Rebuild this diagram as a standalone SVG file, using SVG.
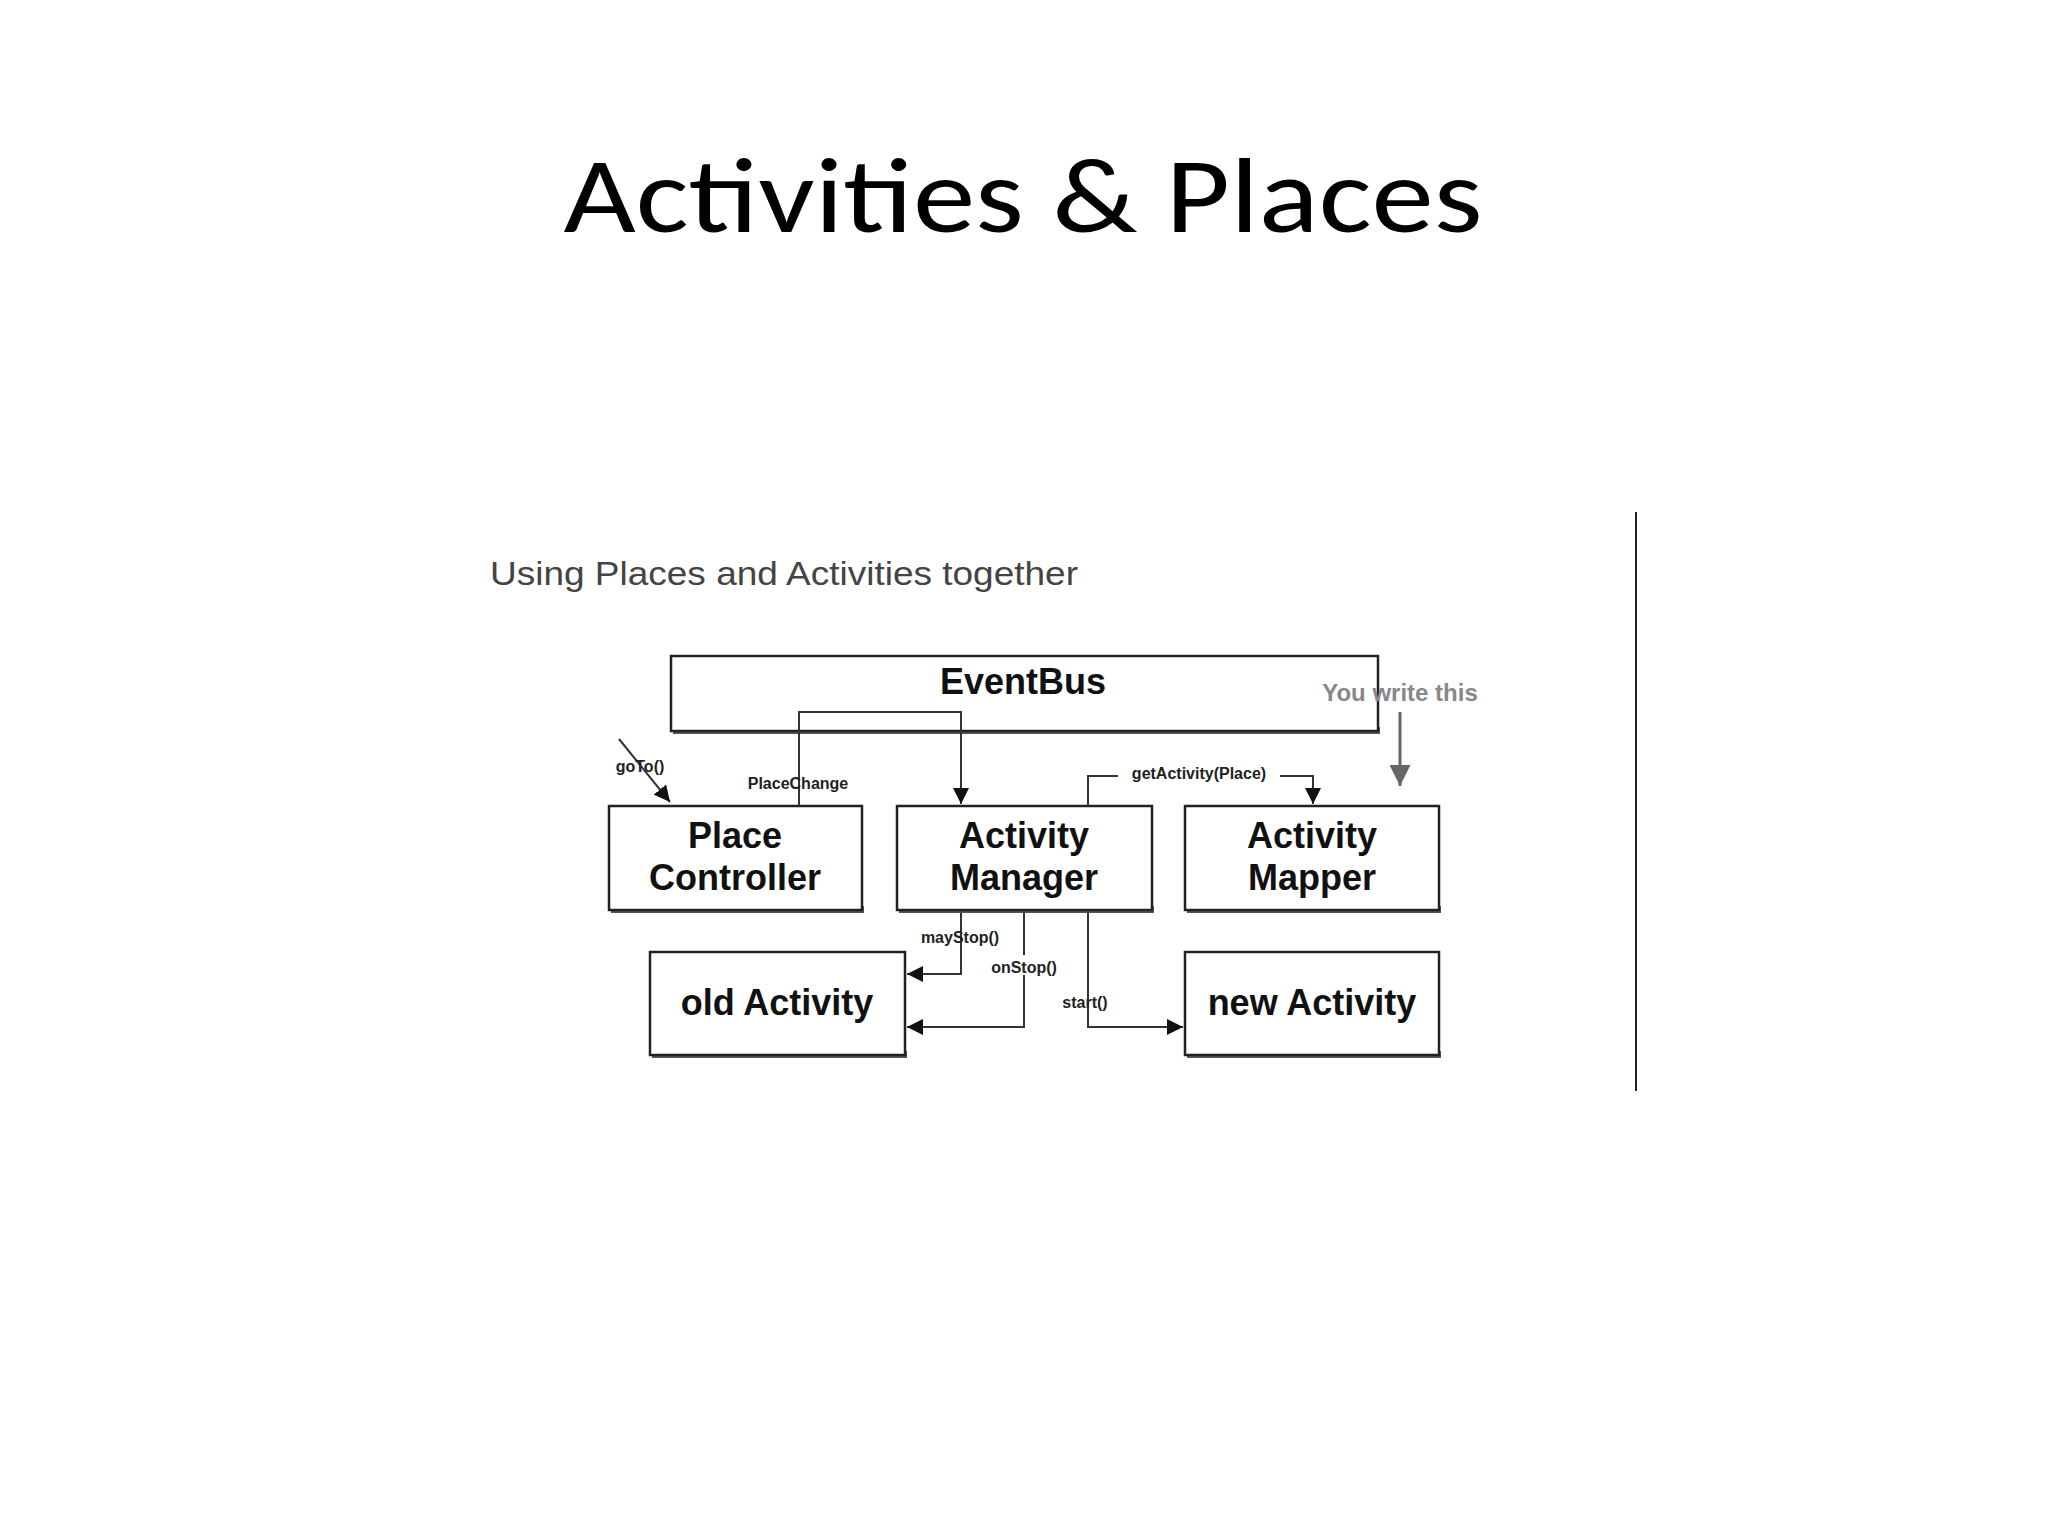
<svg xmlns="http://www.w3.org/2000/svg" width="2048" height="1536" viewBox="0 0 2048 1536">
<style>
.box{fill:#fff;stroke:#222;stroke-width:2.5}
.sh{fill:#555}
.bt{font-family:"Liberation Sans",Arial,sans-serif;font-weight:bold;font-size:36px;fill:#111;text-anchor:middle}
.lbl{font-family:"Liberation Sans",Arial,sans-serif;font-weight:bold;font-size:16px;fill:#222;text-anchor:middle}
.c{fill:none;stroke:#333;stroke-width:2}
</style>
<defs>
<marker id="ah" viewBox="0 0 10 10" refX="10" refY="5" markerWidth="8" markerHeight="8" orient="auto-start-reverse"><path d="M0,0 L10,5 L0,10 z" fill="#111"/></marker>
<marker id="ag" viewBox="0 0 10 10" refX="10" refY="5" markerWidth="7" markerHeight="7" orient="auto"><path d="M0,0 L10,5 L0,10 z" fill="#666"/></marker>
</defs>
<rect width="2048" height="1536" fill="#fff"/>
<text x="1023" y="232" font-family="Carlito,'Open Sans','Liberation Sans',sans-serif" font-size="106" text-anchor="middle" textLength="919" lengthAdjust="spacingAndGlyphs" fill="#000">Activities &amp; Places</text>
<text x="490" y="585" font-family="'Liberation Sans',Arial,sans-serif" font-size="34" fill="#444" textLength="588" lengthAdjust="spacingAndGlyphs">Using Places and Activities together</text>
<line x1="1636" y1="512" x2="1636" y2="1091" stroke="#222" stroke-width="2"/>
<g id="eventbus"><rect class="sh" x="673" y="727" width="707" height="7"/><rect class="box" x="671" y="656" width="707" height="75"/><text class="bt" x="1023" y="694" font-size="34">EventBus</text></g>
<g id="youwrite"><text x="1400" y="701" font-family="'Liberation Sans',Arial,sans-serif" font-weight="bold" font-size="24" fill="#888" text-anchor="middle">You write this</text></g>
<g id="placecontroller"><rect class="sh" x="611" y="906" width="253" height="7"/><rect class="box" x="609" y="806" width="253" height="104"/><text class="bt" x="735" y="848">Place</text><text class="bt" x="735" y="890">Controller</text></g>
<g id="activitymanager"><rect class="sh" x="899" y="906" width="255" height="7"/><rect class="box" x="897" y="806" width="255" height="104"/><text class="bt" x="1024" y="848">Activity</text><text class="bt" x="1024" y="890">Manager</text></g>
<g id="activitymapper"><rect class="sh" x="1187" y="906" width="254" height="7"/><rect class="box" x="1185" y="806" width="254" height="104"/><text class="bt" x="1312" y="848">Activity</text><text class="bt" x="1312" y="890">Mapper</text></g>
<g id="oldactivity"><rect class="sh" x="652" y="1051" width="255" height="7"/><rect class="box" x="650" y="952" width="255" height="103"/><text class="bt" x="777" y="1015">old Activity</text></g>
<g id="newactivity"><rect class="sh" x="1187" y="1051" width="254" height="7"/><rect class="box" x="1185" y="952" width="254" height="103"/><text class="bt" x="1312" y="1015">new Activity</text></g>
<g id="connectors">
<path class="c" d="M799,806 V712 H961 V804" marker-end="url(#ah)"/>
<line x1="619" y1="739" x2="670" y2="802" class="c" marker-end="url(#ah)"/>
<path class="c" d="M1088,806 V776 H1313 V804" marker-end="url(#ah)"/>
<path class="c" d="M961,913 V974 H907" marker-end="url(#ah)"/>
<path class="c" d="M1024,913 V1027 H907" marker-end="url(#ah)"/>
<path class="c" d="M1088,913 V1027 H1183" marker-end="url(#ah)"/>
<line x1="1400" y1="712" x2="1400" y2="786" stroke="#666" stroke-width="3" marker-end="url(#ag)"/>
<rect x="1118" y="762" width="162" height="20" fill="#fff"/>
<rect x="1005" y="955" width="40" height="20" fill="#fff"/>
<text class="lbl" x="640" y="772">goTo()</text>
<text class="lbl" x="798" y="789">PlaceChange</text>
<text class="lbl" x="1199" y="779">getActivity(Place)</text>
<text class="lbl" x="960" y="943">mayStop()</text>
<text class="lbl" x="1024" y="973">onStop()</text>
<text class="lbl" x="1085" y="1008">start()</text>
</g>
</svg>
